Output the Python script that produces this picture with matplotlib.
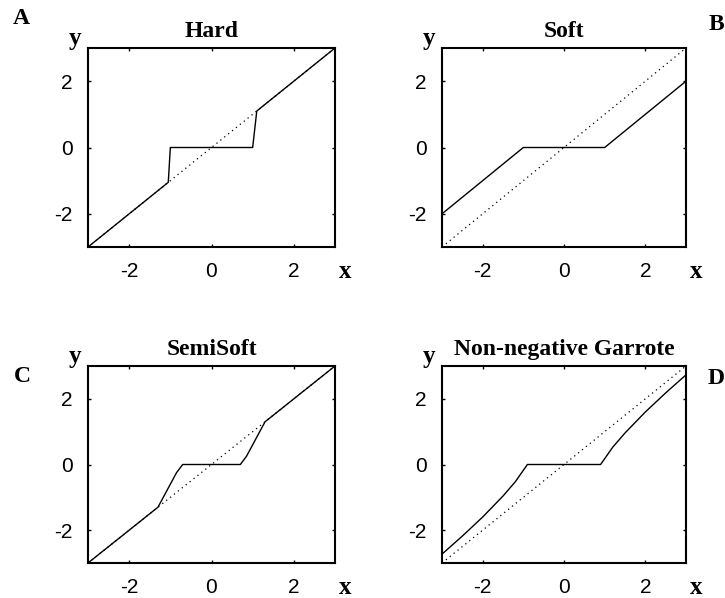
import matplotlib
matplotlib.use('Agg')
import matplotlib.pyplot as plt

plt.rcParams['axes.unicode_minus'] = False

# thresholding rules, breakpoints of each curve
hard_x = [-3.0, -1.05, -1.0, 1.0, 1.1, 3.0]
hard_y = [-3.0, -1.05, 0.0, 0.0, 1.1, 3.0]

soft_x = [-3.0, -1.0, 1.0, 3.0]
soft_y = [-2.0, 0.0, 0.0, 2.0]

semi_x = [-3.0, -1.3, -0.85, -0.7, 0.7, 0.85, 1.3, 3.0]
semi_y = [-3.0, -1.3, -0.25, 0.0, 0.0, 0.25, 1.3, 3.0]

garrote_x = [-3.0, -2.5, -2.0, -1.5, -1.2, -0.9, 0.9, 1.2, 1.5, 2.0, 2.5, 3.0]
garrote_y = [-2.73, -2.18, -1.6, -0.96, -0.53, 0.0, 0.0, 0.53, 0.96, 1.6, 2.18, 2.73]

diag = [-3.0, 3.0]
ticks = [-2, 0, 2]

titles = ['Hard', 'Soft', 'SemiSoft', 'Non-negative Garrote']
curves = [(hard_x, hard_y), (soft_x, soft_y), (semi_x, semi_y), (garrote_x, garrote_y)]

W, H = 725, 598
fig = plt.figure(figsize=(W / 100, H / 100), dpi=100)

# axes boxes in pixels: left, top, right, bottom
boxes = [(88, 48, 335, 247), (442, 48, 686, 247),
         (88, 366, 335, 563), (442, 366, 686, 563)]

serif = 'Liberation Serif'
sans = 'Liberation Sans'

for (l, t, r, b), title, (cx, cy) in zip(boxes, titles, curves):
    ax = fig.add_axes([l / W, 1 - b / H, (r - l) / W, (b - t) / H])
    ax.plot(diag, diag, color='black', linewidth=0.9, linestyle=(0, (1, 3)))
    ax.plot(cx, cy, color='black', linewidth=1.0)
    ax.set_xlim(-3, 3)
    ax.set_ylim(-3, 3)
    ax.set_xticks(ticks)
    ax.set_yticks(ticks)
    ax.set_xticklabels([str(v) for v in ticks], fontfamily=sans, fontsize=15)
    ax.set_yticklabels([str(v) for v in ticks], fontfamily=sans, fontsize=15)
    ax.tick_params(direction='in', length=2, width=1, top=True, right=True, pad=11)
    for s in ax.spines.values():
        s.set_linewidth(1.5)
    ax.set_title(title, fontfamily=serif, fontweight='bold', fontsize=17, pad=8)

# axis names and panel letters, placed in pixels
def put(px, py, s, size=17):
    fig.text(px / W, 1 - py / H, s, ha='center', va='center',
             fontfamily=serif, fontweight='bold', fontsize=size)

for (l, t, r, b) in boxes:
    put(l - 13, t - 10, 'y', 18)
    put(r + 10, b + 24, 'x', 18)

put(21, 19, 'A')
put(716, 24, 'B')
put(22, 376, 'C')
put(716, 378, 'D')

plt.savefig('out.png', dpi=100)
